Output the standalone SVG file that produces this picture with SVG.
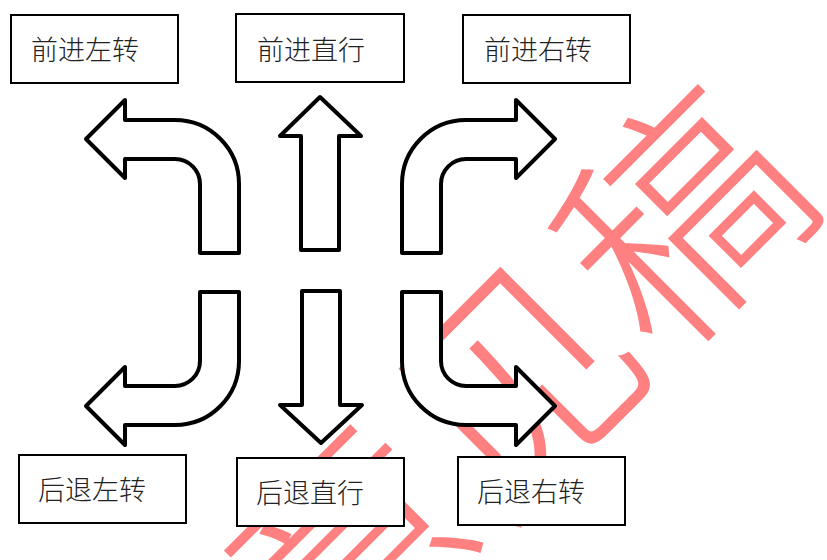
<svg xmlns="http://www.w3.org/2000/svg" width="827" height="560" viewBox="0 0 827 560">
<style>
.box{fill:#fff;stroke:#000;stroke-width:2}
.lbl{font-family:"Noto Sans CJK SC","Noto Sans",sans-serif;font-size:27px;font-weight:300;fill:#222}
.arr{fill:#fff;stroke:#000;stroke-width:4;stroke-linejoin:round}
.wm{font-family:"Noto Sans CJK SC",sans-serif;font-size:235px;font-weight:300;fill:#ff8080}
</style>
<rect width="827" height="560" fill="#fff"/>
<text class="wm" transform="rotate(-45)" x="-259" y="724">意见稿</text>
<g id="connectors">
<path id="arrow-fwd-left" class="arr" d="M86,139 L125,100 L125,120 L175,120 A64,64 0 0 1 239,184 L239,253 L200,253 L200,184 A25,25 0 0 0 175,159 L125,159 L125,178 Z"/>
<path id="arrow-fwd-straight" class="arr" d="M320,97 L361,136 L339,136 L339,250 L301,250 L301,136 L280,136 Z"/>
<path id="arrow-fwd-right" class="arr" d="M555,139 L516,100 L516,120 L466,120 A64,64 0 0 0 402,184 L402,253 L441,253 L441,184 A25,25 0 0 1 466,159 L516,159 L516,178 Z"/>
<path id="arrow-back-left" class="arr" d="M86,406 L125,445 L125,425 L175,425 A64,64 0 0 0 239,361 L239,292 L200,292 L200,361 A25,25 0 0 1 175,386 L125,386 L125,367 Z"/>
<path id="arrow-back-straight" class="arr" d="M321,443 L362,405 L340,405 L340,291 L302,291 L302,405 L280,405 Z"/>
<path id="arrow-back-right" class="arr" d="M555,406 L516,445 L516,425 L466,425 A64,64 0 0 1 402,361 L402,292 L441,292 L441,361 A25,25 0 0 0 466,386 L516,386 L516,367 Z"/>
</g>
<g id="fwd-left"><rect class="box" x="11" y="15" width="167" height="68"/><text class="lbl" x="31" y="60">前进左转</text></g>
<g id="fwd-straight"><rect class="box" x="236" y="14" width="168" height="68"/><text class="lbl" x="257" y="60">前进直行</text></g>
<g id="fwd-right"><rect class="box" x="463" y="15" width="167" height="68"/><text class="lbl" x="484" y="60">前进右转</text></g>
<g id="back-left"><rect class="box" x="19" y="455" width="167" height="68"/><text class="lbl" x="38" y="500">后退左转</text></g>
<g id="back-straight"><rect class="box" x="237" y="458" width="167" height="68"/><text class="lbl" x="256" y="503">后退直行</text></g>
<g id="back-right"><rect class="box" x="458" y="457" width="167" height="68"/><text class="lbl" x="477" y="502">后退右转</text></g>
</svg>
